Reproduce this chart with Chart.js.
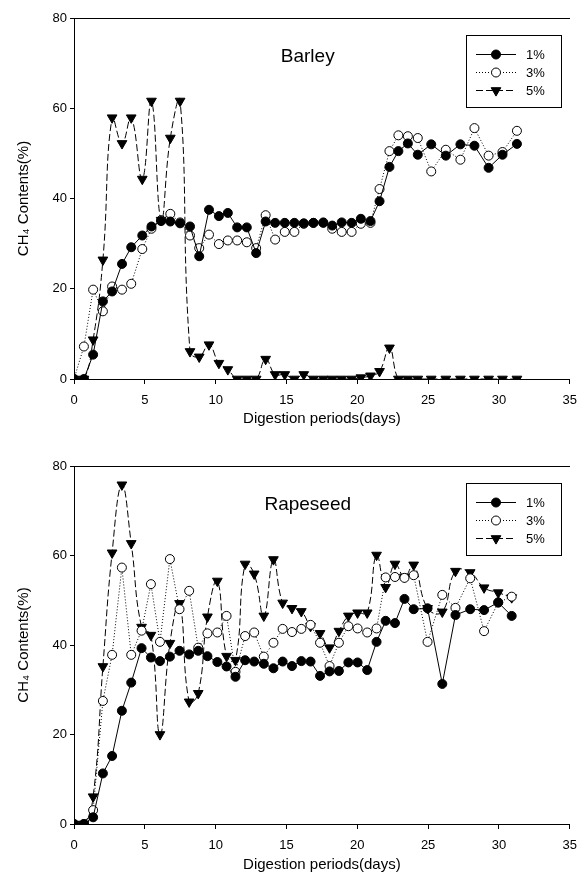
<!DOCTYPE html>
<html>
<head>
<meta charset="utf-8">
<script src="https://cdn.jsdelivr.net/npm/chart.js@4.4.1/dist/chart.umd.min.js"></script>
<style>
  html, body { margin: 0; padding: 0; background: #fff; }
  .panel { position: absolute; left: 0; width: 586px; }
  #barley-wrap { top: 0; height: 441px; }
  #rape-wrap { top: 441px; height: 442px; }
</style>
</head>
<body>
<div class="panel" id="barley-wrap"><canvas id="barley" width="586" height="441"></canvas></div>
<div class="panel" id="rape-wrap"><canvas id="rape" width="586" height="442"></canvas></div>
<script>
// CH4 contents during digestion, barley and rapeseed at 1%, 3%, 5%

const seriesLabels = ['1%', '3%', '5%'];
const xTicks = [0, 5, 10, 15, 20, 25, 30, 35];
const yTicks = [0, 20, 40, 60, 80];

// Barley
const barleyDays = [0, 0.7, 1.35, 2.04, 2.69, 3.39, 4.04, 4.82, 5.47, 6.15, 6.8, 7.49, 8.19, 8.84, 9.53,
    10.23, 10.86, 11.52, 12.2, 12.86, 13.53, 14.2, 14.88, 15.56, 16.22, 16.9, 17.6, 18.23, 18.9, 19.6,
    20.25, 20.93, 21.57, 22.27, 22.9, 23.57, 24.27, 25.22, 26.25, 27.28, 28.27, 29.27, 30.25, 31.27];
const barley1 = [0, 0, 5.4, 17.2, 19.4, 25.5, 29.2, 31.8, 33.8, 35.0, 34.9, 34.5, 33.8, 27.2, 37.5,
    36.1, 36.8, 33.6, 33.6, 27.9, 34.9, 34.6, 34.6, 34.6, 34.5, 34.6, 34.6, 34.0, 34.7, 34.6,
    35.5, 35.0, 39.4, 47.0, 50.5, 52.2, 49.7, 52.0, 49.5, 52.0, 51.7, 46.8, 49.7, 52.1];
const barley3 = [0, 7.2, 19.8, 15.0, 20.5, 19.8, 21.1, 28.8, 33.3, 35.2, 36.6, 34.7, 31.8, 29.0, 32.0,
    29.9, 30.7, 30.7, 30.3, 29.0, 36.3, 30.9, 32.6, 32.6, 34.4, 34.6, 34.7, 33.3, 32.6, 32.6,
    34.4, 34.6, 42.1, 50.5, 54.0, 53.8, 53.4, 46.0, 50.8, 48.6, 55.6, 49.5, 50.3, 55.0];
const barley5 = [0, 0, 8.7, 26.4, 57.9, 52.2, 57.9, 44.3, 61.6, 35.2, 53.4, 61.6, 6.1, 4.9, 7.6,
    3.5, 2.1, 0, 0, 0, 4.4, 1.0, 1.0, 0, 1.0, 0, 0, 0, 0, 0,
    0.3, 0.7, 1.7, 6.9, 0, 0, 0, 0, 0, 0, 0, 0, 0, 0];

// Rapeseed (lower panel)
const rapeDays = [0, 0.7, 1.35, 2.04, 2.69, 3.38, 4.04, 4.77, 5.43, 6.07, 6.77, 7.45, 8.13, 8.77, 9.42,
    10.12, 10.77, 11.4, 12.08, 12.72, 13.4, 14.08, 14.73, 15.39, 16.05, 16.7, 17.37, 18.04, 18.7, 19.37,
    20.02, 20.7, 21.36, 22.0, 22.66, 23.33, 23.98, 24.96, 26.0, 26.93, 27.97, 28.95, 29.95, 30.9];
const rape1 = [0, 0, 1.5, 11.3, 15.2, 25.3, 31.6, 39.3, 37.2, 36.4, 37.4, 38.7, 37.9, 38.7, 37.5,
    36.2, 35.2, 32.9, 36.6, 36.3, 35.8, 34.8, 36.3, 35.3, 36.4, 36.3, 33.1, 34.1, 34.2, 36.1,
    36.1, 34.4, 40.7, 45.4, 44.9, 50.3, 48.0, 48.2, 31.3, 46.7, 48.0, 47.8, 49.5, 46.5];
const rape3 = [0, 0, 3.1, 27.5, 37.8, 57.3, 37.8, 43.2, 53.6, 40.7, 59.2, 48.0, 52.1, 39.4, 42.6,
    42.8, 46.5, 34.0, 42.0, 42.8, 37.4, 40.5, 43.6, 42.9, 43.6, 44.5, 40.5, 35.3, 40.5, 44.2,
    43.7, 42.8, 43.7, 55.1, 55.2, 55.0, 55.6, 40.7, 51.2, 48.3, 54.9, 43.1, 49.5, 50.8];
const rape5 = [0, 0, 6.1, 35.2, 60.6, 75.8, 62.7, 44.0, 42.2, 20.0, 40.4, 49.3, 27.3, 29.2, 46.3,
    54.3, 37.5, 36.6, 58.1, 55.9, 46.5, 59.1, 49.4, 48.2, 47.5, 44.2, 42.6, 39.4, 43.1, 46.5,
    47.2, 47.2, 60.1, 52.9, 58.1, 55.2, 57.9, 48.2, 47.4, 56.5, 56.2, 52.8, 51.7, 50.6];

const FONT = '"Liberation Sans", Arial, sans-serif';

const seriesStyles = [
    { borderDash: [], pointStyle: 'circle', pointRadius: 4.5, fill: '#000', tension: 0 },
    { borderDash: [1, 2], pointStyle: 'circle', pointRadius: 4.5, fill: '#fff', tension: 0 },
    { borderDash: [7, 3], pointStyle: 'triangle', pointRadius: 5.6, fill: '#000', tension: 0.45 }
];

function makeDatasets(days, series) {
    return series.map((values, i) => {
        const st = seriesStyles[i];
        return {
            label: seriesLabels[i],
            data: days.map((d, j) => ({ x: d, y: values[j] })),
            borderColor: '#000',
            borderWidth: 1,
            borderDash: st.borderDash,
            pointStyle: st.pointStyle,
            pointRotation: st.pointStyle === 'triangle' ? 180 : 0,
            pointRadius: st.pointRadius,
            pointBackgroundColor: st.fill,
            pointBorderColor: '#000',
            pointBorderWidth: 1,
            tension: st.tension,
            fill: false
        };
    });
}

// marker used in the boxed legend
function drawMarker(ctx, ds, x, y) {
    ctx.beginPath();
    if (ds.pointStyle === 'triangle') {
        const r = ds.pointRadius;
        ctx.moveTo(x, y + r);
        ctx.lineTo(x - r * 0.866, y - r / 2);
        ctx.lineTo(x + r * 0.866, y - r / 2);
        ctx.closePath();
    } else {
        ctx.arc(x, y, ds.pointRadius, 0, Math.PI * 2);
    }
    ctx.fillStyle = ds.pointBackgroundColor;
    ctx.fill();
    ctx.strokeStyle = '#000';
    ctx.lineWidth = 1;
    ctx.stroke();
}

const boxLegend = {
    id: 'boxLegend',
    afterDraw(chart, args, opts) {
        const { ctx, chartArea } = chart;
        const left = Math.round(chartArea.left + opts.left);
        const top = Math.round(chartArea.top + opts.top);
        ctx.save();
        ctx.fillStyle = '#fff';
        ctx.fillRect(left, top, opts.width, opts.height);
        ctx.strokeStyle = '#000';
        ctx.lineWidth = 1;
        ctx.strokeRect(left + 0.5, top + 0.5, opts.width, opts.height);
        chart.data.datasets.forEach((ds, i) => {
            const y = Math.round(top + opts.firstRow + i * opts.rowGap);
            ctx.beginPath();
            ctx.setLineDash(ds.borderDash);
            ctx.strokeStyle = '#000';
            ctx.moveTo(left + opts.lineStart, y + 0.5);
            ctx.lineTo(left + opts.lineEnd, y + 0.5);
            ctx.stroke();
            ctx.setLineDash([]);
            drawMarker(ctx, ds, left + (opts.lineStart + opts.lineEnd) / 2, y + 0.5);
            ctx.fillStyle = '#000';
            ctx.font = '13px ' + FONT;
            ctx.textAlign = 'left';
            ctx.textBaseline = 'middle';
            ctx.fillText(ds.label, left + opts.textX, y + 1);
        });
        ctx.restore();
    }
};

const panelTitle = {
    id: 'panelTitle',
    afterDraw(chart, args, opts) {
        const { ctx, scales } = chart;
        ctx.save();
        ctx.font = opts.size + 'px ' + FONT;
        ctx.fillStyle = '#000';
        ctx.textAlign = 'center';
        ctx.textBaseline = 'middle';
        ctx.fillText(opts.text, scales.x.getPixelForValue(opts.x), scales.y.getPixelForValue(opts.y));
        ctx.restore();
    }
};

function buildChart(canvasId, title, days, series, topH, bottomH, titleGap) {
    const tickFont = { family: FONT, size: 13 };
    const titleFont = { family: FONT, size: 15 };
    new Chart(document.getElementById(canvasId), {
        type: 'line',
        data: { datasets: makeDatasets(days, series) },
        options: {
            responsive: false,
            animation: false,
            devicePixelRatio: 1,
            layout: { padding: { left: 0, right: 9, top: 0, bottom: 0 } },
            plugins: {
                legend: { display: false },
                tooltip: { enabled: false },
                panelTitle: { text: title, x: 16.5, y: 71.4, size: 19 },
                boxLegend: { left: 392, top: 17, width: 95, height: 72, firstRow: 18.5, rowGap: 18,
                             lineStart: 10, lineEnd: 50, textX: 60 }
            },
            scales: {
                x: {
                    type: 'linear',
                    min: xTicks[0],
                    max: xTicks[xTicks.length - 1],
                    ticks: { stepSize: xTicks[1] - xTicks[0], color: '#000', font: tickFont, padding: 9, maxRotation: 0 },
                    grid: { drawOnChartArea: false, color: '#000', tickLength: 5 },
                    border: { color: '#000', width: 1 },
                    title: { display: true, text: 'Digestion periods(days)', color: '#000', font: titleFont,
                             padding: { top: 0, bottom: titleGap } },
                    afterFit: s => { s.height = bottomH; }
                },
                xTop: {
                    type: 'linear',
                    position: 'top',
                    min: xTicks[0],
                    max: xTicks[xTicks.length - 1],
                    ticks: { display: false },
                    grid: { display: false },
                    border: { color: '#000', width: 1 },
                    afterFit: s => { s.height = topH; }
                },
                y: {
                    min: yTicks[0],
                    max: yTicks[yTicks.length - 1],
                    ticks: { stepSize: yTicks[1] - yTicks[0], color: '#000', font: tickFont, padding: 3 },
                    grid: { drawOnChartArea: false, color: '#000', tickLength: 4 },
                    border: { color: '#000', width: 1 },
                    title: { display: true, text: 'CH\u2084 Contents(%)', color: '#000', font: titleFont,
                             padding: { top: 15, bottom: 0 } },
                    afterFit: s => { s.width = 74; }
                }
            }
        },
        plugins: [panelTitle, boxLegend]
    });
}

buildChart('barley', 'Barley', barleyDays, [barley1, barley3, barley5], 18, 62, 13);
buildChart('rape', 'Rapeseed', rapeDays, [rape1, rape3, rape5], 25, 59, 9);
</script>
</body>
</html>
